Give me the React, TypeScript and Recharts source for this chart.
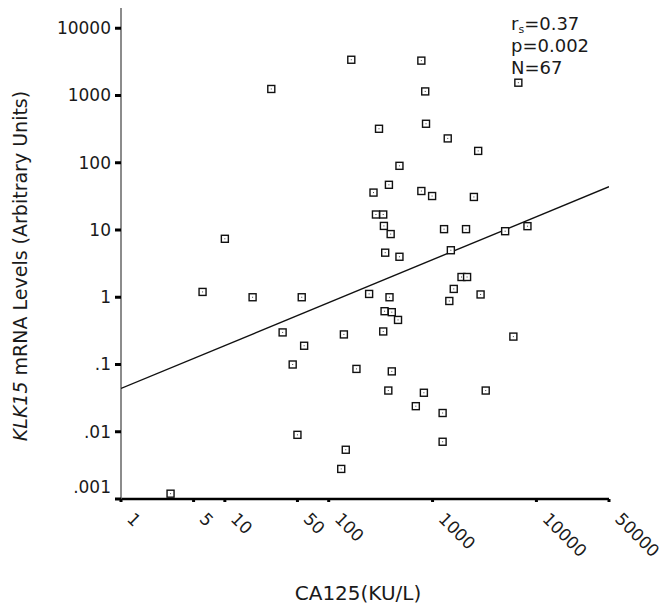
import { ScatterChart, Scatter, XAxis, YAxis } from 'recharts';

// CA125 (KU/L) vs KLK15 mRNA levels
const ca125 = [
  165, 780, 28, 850, 6700, 305, 865, 1400, 2750, 480,
  380, 270, 780, 990, 2500, 285, 335, 340, 395, 1290,
  2100, 5000, 8200, 10, 350, 480, 1500, 1900, 2150, 1600,
  6.1, 2900, 245, 385, 18.5, 55, 1450, 345, 405, 465,
  36, 140, 335, 6000, 58, 45, 185, 405, 375, 825,
  3250, 690, 1250, 50, 1250, 146, 132, 3,
];
const klk15 = [
  3400, 3300, 1250, 1150, 1550, 320, 380, 230, 150, 90,
  47, 36, 38, 32, 31, 17, 17, 11.5, 8.7, 10.3,
  10.3, 9.6, 11.4, 7.4, 4.6, 4.0, 5.0, 2.0, 2.0, 1.33,
  1.2, 1.1, 1.12, 1.0, 1.0, 1.0, 0.88, 0.62, 0.6, 0.46,
  0.3, 0.28, 0.31, 0.26, 0.19, 0.1, 0.086, 0.079, 0.041, 0.038,
  0.041, 0.024, 0.019, 0.009, 0.0071, 0.0054, 0.0028, 0.0012,
];

// regression line end points
const fitX = [1, 50000];
const fitY = [0.044, 44];

const xTicks = [1, 5, 10, 50, 100, 500, 1000, 5000, 10000, 50000];
const yTicks = [0.001, 0.01, 0.1, 1, 10, 100, 1000, 10000];
const yTickLabels = ['.001', '.01', '.1', '1', '10', '100', '1000', '10000'];

const stats = ['=0.37', 'p=0.002', 'N=67'];

const font = '"DejaVu Sans", sans-serif';
const ink = '#1a1a1a';

const points = ca125.map((x, i) => ({ x, y: klk15[i] }));
const fit = fitX.map((x, i) => ({ x, y: fitY[i] }));

const SquareDot = (props: any) => {
  const { cx, cy } = props;
  if (cx == null || cy == null) return <g />;
  return (
    <g>
      <rect x={cx - 3.5} y={cy - 3.5} width={7} height={7} fill="#fff" stroke="#111" strokeWidth={1.4} />
      <rect x={cx - 0.5} y={cy - 0.5} width={1} height={1} fill="#444" />
    </g>
  );
};

const XTick = (props: any) => {
  const { x, y, payload } = props;
  const tx = x + 5;
  const ty = y + 16;
  return (
    <text x={tx} y={ty} transform={`rotate(45 ${tx} ${ty})`} textAnchor="start" fontSize={17} fontFamily={font} fill={ink}>
      {payload.value}
    </text>
  );
};

const YTick = (props: any) => {
  const { x, y, payload } = props;
  const idx = yTicks.indexOf(payload.value);
  const shift = payload.value === 0.001 ? -12 : 0;
  return (
    <text x={x} y={y + 6 + shift} textAnchor="end" fontSize={17} fontFamily={font} fill={ink}>
      {idx >= 0 ? yTickLabels[idx] : payload.value}
    </text>
  );
};

export default function App() {
  return (
    <div style={{ position: 'absolute', left: 0, top: 0, width: 668, height: 605, background: '#fff' }}>
      <ScatterChart width={668} height={605} margin={{ top: 8, right: 59, bottom: 36, left: 0 }}>
        <XAxis
          type="number"
          dataKey="x"
          scale="log"
          domain={[1, 50000]}
          ticks={xTicks}
          allowDataOverflow
          height={70}
          tickSize={3}
          tickMargin={2}
          tick={<XTick />}
          axisLine={{ stroke: '#000', strokeWidth: 2.5 }}
          tickLine={{ stroke: '#000', strokeWidth: 3 }}
          label={{
            content: () => (
              <text x={358} y={600} textAnchor="middle" fontSize={20} fontFamily={font} fill={ink}>
                CA125(KU/L)
              </text>
            ),
          }}
        />
        <YAxis
          type="number"
          dataKey="y"
          scale="log"
          domain={[0.001, 20000]}
          ticks={yTicks}
          allowDataOverflow
          width={121}
          tickSize={6}
          tickMargin={4}
          tick={<YTick />}
          axisLine={{ stroke: '#666', strokeWidth: 1.5 }}
          tickLine={{ stroke: '#000', strokeWidth: 3 }}
          label={{
            content: () => (
              <g>
                <text
                  x={27}
                  y={266}
                  transform="rotate(-90 27 266)"
                  textAnchor="middle"
                  fontSize={19}
                  fontFamily={font}
                  fill={ink}
                >
                  <tspan fontStyle="italic">KLK15</tspan>
                  <tspan> mRNA Levels (Arbitrary Units)</tspan>
                </text>
                <text x={511} y={30} fontSize={18} fontFamily={font} fill={ink}>
                  r<tspan fontSize={11} dy={3}>s</tspan>
                  <tspan dy={-3}>{stats[0]}</tspan>
                </text>
                <text x={511} y={52} fontSize={18} fontFamily={font} fill={ink}>
                  {stats[1]}
                </text>
                <text x={511} y={74} fontSize={18} fontFamily={font} fill={ink}>
                  {stats[2]}
                </text>
              </g>
            ),
          }}
        />
        <Scatter
          data={fit}
          line={{ stroke: '#111', strokeWidth: 1.4 }}
          shape={() => <g />}
          isAnimationActive={false}
        />
        <Scatter data={points} shape={<SquareDot />} isAnimationActive={false} />
      </ScatterChart>
    </div>
  );
}
